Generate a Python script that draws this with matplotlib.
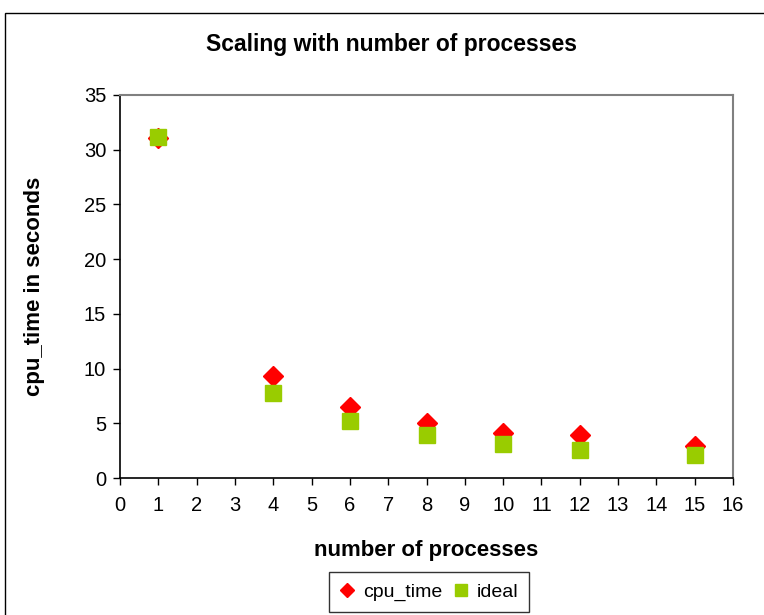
import matplotlib.pyplot as plt
from matplotlib.patches import Rectangle

# measured run times vs. ideal linear speedup
procs = [1, 4, 6, 8, 10, 12, 15]
cpu_time = [31.1, 9.3, 6.5, 5.0, 4.1, 3.9, 2.9]
ideal = [31.2, 7.8, 5.2, 3.9, 3.12, 2.6, 2.08]

x_ticks = list(range(0, 17))
y_ticks = list(range(0, 36, 5))

plt.rcParams['font.family'] = ['Liberation Sans', 'DejaVu Sans']

fig = plt.figure(figsize=(7.64, 6.15), dpi=100)
ax = fig.add_axes([120 / 764, 1 - 478 / 615, 613 / 764, 383 / 615])

ax.plot(procs, cpu_time, linestyle='none', marker='D', ms=10,
        color='#FF0000', mec='#FF0000', label='cpu_time', zorder=3)
ax.plot(procs, ideal, linestyle='none', marker='s', ms=11.3,
        color='#99CC00', mec='#99CC00', label='ideal', zorder=4)

ax.set_xlim(0, 16)
ax.set_ylim(0, 35)
ax.set_xticks(x_ticks)
ax.set_yticks(y_ticks)
ax.tick_params(direction='out', length=5, width=1, labelsize=14.5, color='black')
ax.tick_params(axis='x', pad=8)
ax.tick_params(axis='y', pad=5)

for side in ['top', 'right']:
    ax.spines[side].set_color('#808080')
    ax.spines[side].set_linewidth(1.5)
for side in ['left', 'bottom']:
    ax.spines[side].set_color('black')
    ax.spines[side].set_linewidth(1.2)

ax.set_xlabel('number of processes', fontsize=16, fontweight='bold', labelpad=18)
ax.set_ylabel('cpu_time in seconds', fontsize=16, fontweight='bold', labelpad=28)
fig.text(391 / 764, 1 - 45 / 615, 'Scaling with number of processes',
         ha='center', va='center', fontsize=16.5, fontweight='bold')

# chart area frame, running off the right and bottom edges
fig.patches.append(Rectangle((5 / 764, -0.05), 1.2, 1 - 13 / 615 + 0.05,
                             transform=fig.transFigure, fill=False,
                             edgecolor='black', linewidth=1))

leg = fig.legend(loc='center', bbox_to_anchor=(429 / 764, 1 - 592 / 615),
                 ncol=2, fontsize=14, frameon=True, fancybox=False,
                 handlelength=0.8, handletextpad=0.4, columnspacing=0.6,
                 borderpad=0.55, markerscale=0.75)
leg.get_frame().set_edgecolor('black')
leg.get_frame().set_linewidth(1)

fig.savefig('out.png', dpi=100)
